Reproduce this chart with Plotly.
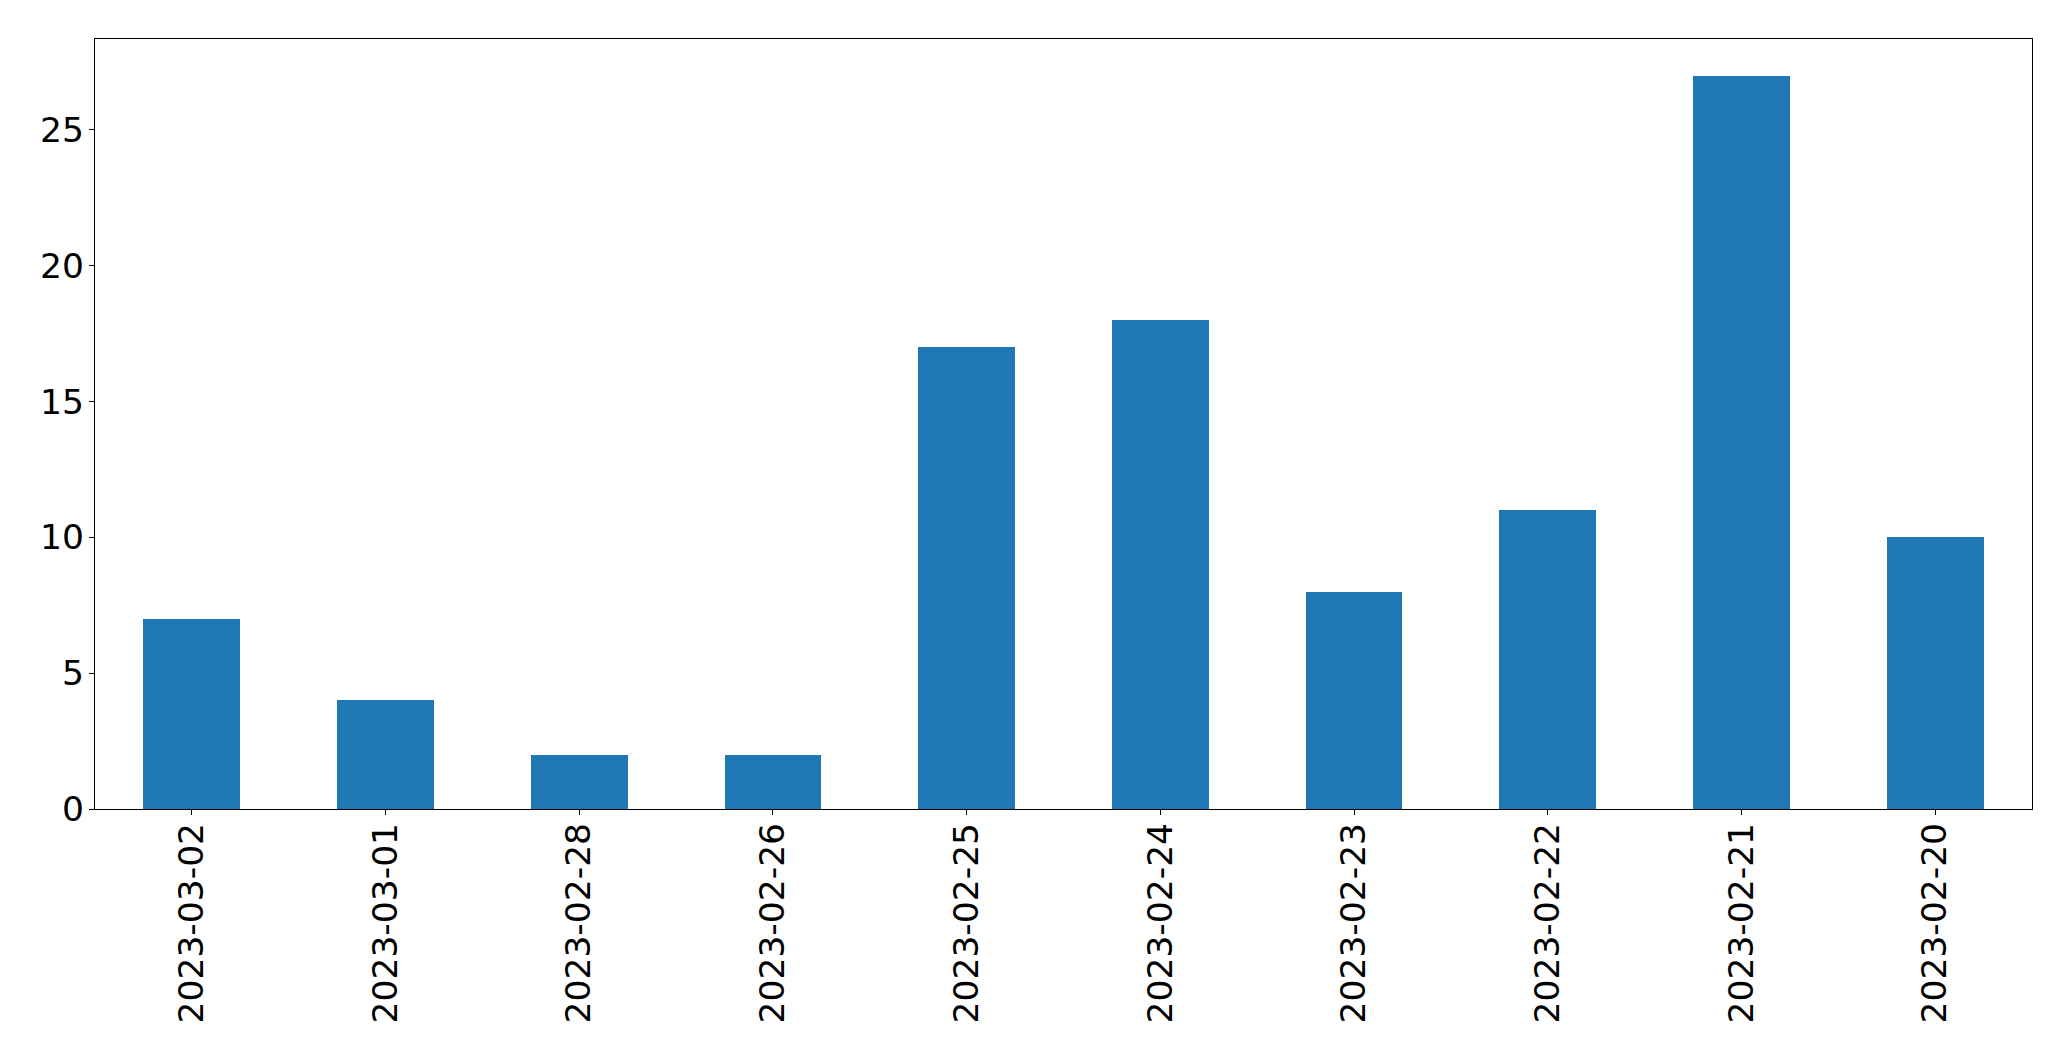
import plotly.graph_objects as go

categories = ["2023-03-02", "2023-03-01", "2023-02-28", "2023-02-26", "2023-02-25",
              "2023-02-24", "2023-02-23", "2023-02-22", "2023-02-21", "2023-02-20"]
values = [7, 4, 2, 2, 17, 18, 8, 11, 27, 10]
y_ticks = [0, 5, 10, 15, 20, 25]

fig = go.Figure(go.Bar(x=categories, y=values, width=0.5, marker=dict(color="#1f77b4", line=dict(width=0))))

font = dict(family="DejaVu Sans", size=34.5, color="black")
fig.update_layout(
    width=2063, height=1053,
    margin=dict(l=87, r=39, t=31, b=252, pad=0),
    plot_bgcolor="white", paper_bgcolor="white",
    showlegend=False, bargap=0,
    font=font,
)
fig.update_xaxes(
    type="category", range=[-0.5, 9.5], tickangle=-90,
    showline=True, linecolor="black", linewidth=1.3, mirror=True,
    ticks="outside", ticklen=5, tickwidth=1.3, tickcolor="black",
    showgrid=False, zeroline=False, tickfont=font, ticklabelstandoff=-6,
)
fig.update_yaxes(
    range=[0, 28.35], tickvals=y_ticks,
    showline=True, linecolor="black", linewidth=1.3, mirror=True,
    ticks="outside", ticklen=5, tickwidth=1.3, tickcolor="black",
    showgrid=False, zeroline=False, tickfont=font, ticklabelstandoff=-2,
)
fig.write_html("out.html")
